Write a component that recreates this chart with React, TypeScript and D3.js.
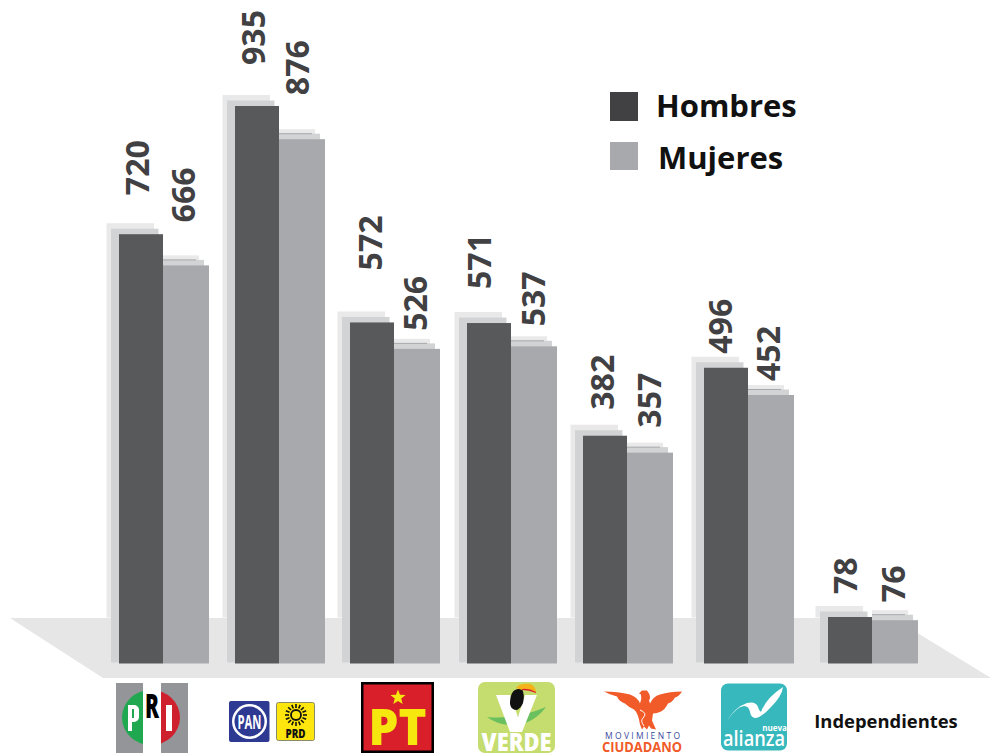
import React from "react";
import * as d3 from "d3";

const parties = ["PRI", "PAN-PRD", "PT", "VERDE", "MC", "NA", "IND"];
const hombres = [720, 935, 572, 571, 382, 496, 78];
const mujeres = [666, 876, 526, 537, 357, 452, 76];
// The picture's light bars are not exactly proportional: small offsets read from it
const mujeresNudge = [-1, -2, -1, 3, 2, 1, 2];
// Estimated placement of each rotated value label above its bar (in px above bar top)
const gapH = [39, 41, 52, 34, 26, 14, 23];
const gapM = [43, 44, 18, 20, 25, 14, 18];
const groupLeft = [119, 235, 350, 467, 583, 704, 828];
const labelXH = [137, 253, 370, 479, 602, 720, 845];
const labelXM = [183, 297, 415, 533, 649, 768, 893];

const FONT = "'Open Sans', sans-serif";
const TEXT = "#414042";
const DARK = "#58595b";
const LIGHT = "#a7a9ac";
const BACK1 = "#e9e9ea";
const BACK2 = "#d1d3d4";

const y = d3.scaleLinear().domain([0, 935]).range([663.5, 106]);
const xGroup = d3.scaleOrdinal<string, number>().domain(parties).range(groupLeft);
const floor = d3.line()([[10, 618], [893, 618], [991, 678], [103, 678]]) + "Z";

const sunRays = d3.range(16).map((i) => (i * 360) / 16);

function Logos() {
  return (
    <g fontFamily={FONT}>
      <defs>
        <clipPath id="priCircle">
          <ellipse cx={151} cy={717.5} rx={29} ry={27.5} />
        </clipPath>
      </defs>
      {/* PRI */}
      <rect x={116} y={683} width={27} height={70} fill="#939598" />
      <rect x={161} y={683} width={27} height={70} fill="#939598" />
      <g clipPath="url(#priCircle)">
        <rect x={116} y={683} width={27} height={70} fill="#1fa84f" />
        <rect x={161} y={683} width={27} height={70} fill="#cf202e" />
      </g>
      <path d="M128 705h6a5 5 0 0 1 5 5v7a5 5 0 0 1-5 5h-2v9h-4z M132 709v9h2v-9z" fill="#fff" fillRule="evenodd" />
      <text x={152} y={718} textAnchor="middle" fontSize={34} fontWeight={800} fill="#000" textLength={14} lengthAdjust="spacingAndGlyphs">R</text>
      <rect x={166} y={705} width={6} height={26} fill="#fff" />
      {/* PAN */}
      <rect x={229} y={701} width={40.5} height={41} rx={2} fill="#2e3a92" />
      <circle cx={249.5} cy={721.5} r={17.5} fill="#fff" />
      <circle cx={249.5} cy={721.5} r={15} fill="#2e3a92" />
      <text x={249.5} y={729} textAnchor="middle" fontSize={20} fontWeight={700} fill="#fff" textLength={24} lengthAdjust="spacingAndGlyphs">PAN</text>
      {/* PRD */}
      <rect x={276.5} y={702.5} width={38} height={38} rx={2} fill="#fde60d" stroke="#8a8a6a" />
      <circle cx={296} cy={715} r={5} fill="none" stroke="#111" strokeWidth={1.8} />
      {sunRays.map((a) => (
        <line key={a} x1={296} y1={708} x2={296} y2={704} stroke="#111" strokeWidth={1.6} transform={`rotate(${a} 296 715)`} />
      ))}
      <text x={295.5} y={738} textAnchor="middle" fontSize={13} fontWeight={800} fill="#111" textLength={20} lengthAdjust="spacingAndGlyphs">PRD</text>
      {/* PT */}
      <rect x={361} y={682} width={73} height={71} fill="#000" />
      <rect x={363.5} y={684.5} width={68} height={66} fill="#d9202a" />
      <path d={d3.lineRadial().curve(d3.curveLinearClosed)(d3.range(10).map((i) => [(i * Math.PI) / 5, i % 2 ? 3.4 : 8])) || ""} transform="translate(398,697.5)" fill="#f6e70f" />
      <text x={397.5} y={745} textAnchor="middle" fontSize={49} fontWeight={800} fill="#f6e70f" textLength={58} lengthAdjust="spacingAndGlyphs">PT</text>
      {/* VERDE */}
      <rect x={478} y={682} width={77} height={71} rx={7} fill="#c5dc6f" />
      <path d="M487 717q28 3 59-10q-12 16-30 18q-17 1-29-8z" fill="#6abf5e" />
      <path d="M496 695h14l8 22l7-22h12l-15 37h-12z" fill="#fff" />
      <path d="M510 704q0-14 8-15l4 0q3 6 1 14q-2 5-6 7q-6 0-7-6z" fill="#111" />
      <path d="M516 688q4-5 14-4q6 2 6 9q-8-5-14-3z" fill="#f5b31a" />
      <path d="M522 689q7-1 14 3l0 1q-7-3-14-3z" fill="#d9202a" />
      <text x={516.5} y={751} textAnchor="middle" fontSize={25} fontWeight={800} fill="#fff" textLength={70} lengthAdjust="spacingAndGlyphs">VERDE</text>
      {/* Movimiento Ciudadano */}
      <path d="M604 691.5q14 0 26 3q8 3 10 9q2-5 1-9l-2-1 3-3 5 0 2 3q2 4 0 7l1 3q3-7 10-9q10-3 22-3q-3 5-7 6q-3 5-7 6q-3 6-7 8q-4 2-8 2l-1 7 4 9-5-1-2-3-2 4-3-3-2 3-2-5-1-5q-2-8-5-10q-5-2-9-6q-6-2-8-7q-8-2-13-5z" fill="#f15a29" />
      <path d="M640 710q8 3 3 8q-3 3 1 8" fill="none" stroke="#fff" strokeWidth={1} />
      <text x={642.5} y={739} textAnchor="middle" fontSize={8.5} fill="#3b4a9c" textLength={75} lengthAdjust="spacing">MOVIMIENTO</text>
      <text x={642} y={752} textAnchor="middle" fontSize={14} fontWeight={700} fill="#f15a29" textLength={80} lengthAdjust="spacingAndGlyphs">CIUDADANO</text>
      {/* Nueva Alianza */}
      <rect x={721} y={683.5} width={66} height={67} rx={7} fill="#36b8bd" />
      <path d="M727 721q8-14 20-18q9-2 11 4q1 4 3 5q5-14 22-25q-1 9-12 20q-9 10-15 11q-5 0-6-6q-1-6-6-6q-8 1-17 15z" fill="#fff" />
      <text x={774.5} y={730.5} textAnchor="middle" fontSize={8} fontWeight={700} fill="#fff">nueva</text>
      <text x={754} y={746} textAnchor="middle" fontSize={21} fontWeight={600} fill="#fff" textLength={62} lengthAdjust="spacingAndGlyphs">alianza</text>
      {/* Independientes */}
      <text x={886} y={728} textAnchor="middle" fontSize={18.4} fontWeight={700} fill="#111">Independientes</text>
    </g>
  );
}

export default function App() {
  const base = y(0);
  const labelLen = (v: number) => (String(v).length * 55) / 3;
  return (
    <svg width={991} height={753} style={{ position: "absolute", left: 0, top: 0, background: "#fff" }}>
      {parties.map((p, i) => {
        const x0 = xGroup(p);
        const top = y(hombres[i]);
        return <rect key={p} x={x0 - 12.5} y={top - 11} width={47.5} height={base - 46 - top + 11} fill={BACK1} />;
      })}
      <path d={floor} fill="#e6e6e6" />
      {parties.map((p, i) => {
        const x0 = xGroup(p);
        const tH = y(hombres[i]);
        const tM = y(mujeres[i]) + mujeresNudge[i];
        return (
          <g key={p}>
            <rect x={x0 - 8} y={tH - 5.5} width={47.5} height={base - 1 - tH + 5.5} fill={BACK2} />
            <rect x={x0 + 44} y={tM - 10} width={36} height={10} fill={BACK1} />
            <rect x={x0 + 44} y={tM - 5.5} width={41} height={6} fill={BACK2} />
            <rect x={x0 + 44} y={tM - 6} width={33} height={1} fill={LIGHT} />
            <rect x={x0 + 44} y={tM} width={46} height={base - tM} fill={LIGHT} />
            <rect x={x0} y={tH} width={44} height={base - tH} fill={DARK} />
            <text transform={`translate(${labelXH[i] + 11.5},${tH - gapH[i]}) rotate(-90)`} fontFamily={FONT} fontWeight={700} fontSize={32} textLength={labelLen(hombres[i])} lengthAdjust="spacingAndGlyphs" fill={TEXT}>{hombres[i]}</text>
            <text transform={`translate(${labelXM[i] + 11.5},${tM - gapM[i]}) rotate(-90)`} fontFamily={FONT} fontWeight={700} fontSize={32} textLength={labelLen(mujeres[i])} lengthAdjust="spacingAndGlyphs" fill={TEXT}>{mujeres[i]}</text>
          </g>
        );
      })}
      <rect x={610} y={92} width={28} height={29} fill="#414042" />
      <rect x={610} y={142} width={28} height={28} fill={LIGHT} />
      <text x={656} y={117} fontFamily={FONT} fontWeight={700} fontSize={31} fill="#111">Hombres</text>
      <text x={658} y={169} fontFamily={FONT} fontWeight={700} fontSize={31} fill="#111">Mujeres</text>
      <Logos />
    </svg>
  );
}
